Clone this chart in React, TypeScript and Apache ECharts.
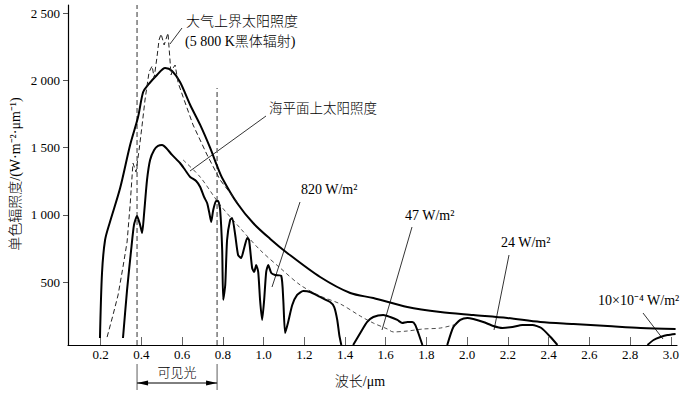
import React, { useEffect, useRef } from "react";
import * as echarts from "echarts";

// ---------- tick labels ----------
const xTickValues = [0.2, 0.4, 0.6, 0.8, 1.0, 1.2, 1.4, 1.6, 1.8, 2.0, 2.2, 2.4, 2.6, 2.8, 3.0];
const yTickValues = [500, 1000, 1500, 2000, 2500];

// ---------- 5800 K blackbody (thick upper curve) ----------
const blackbodyWavelength = [0.197, 0.207, 0.222, 0.246, 0.296, 0.345, 0.384, 0.409, 0.433, 0.477, 0.517, 0.551, 0.590, 0.640, 0.689, 0.738, 0.772, 0.797, 0.870, 0.949, 1.033, 1.116, 1.278, 1.426, 1.539, 1.706, 1.868, 2.030, 2.197, 2.359, 2.522, 2.689, 2.851, 3.023];
const blackbodyIrradiance = [86, 569, 814, 948, 1200, 1520, 1728, 1914, 1966, 2040, 2092, 2070, 1988, 1817, 1669, 1498, 1364, 1275, 1089, 940, 822, 718, 539, 420, 383, 316, 279, 257, 235, 205, 190, 175, 160, 153];

// ---------- top of atmosphere (dashed, spiky) ----------
const toaWavelength = [0.232, 0.261, 0.286, 0.310, 0.330, 0.345, 0.359, 0.374, 0.389, 0.404, 0.418, 0.438, 0.453, 0.463, 0.477, 0.487, 0.497, 0.512, 0.531, 0.546, 0.556, 0.566, 0.581, 0.605, 0.654, 0.723, 0.787, 0.885];
const toaIrradiance = [93, 257, 406, 614, 799, 1074, 1386, 1319, 1483, 1669, 1854, 2062, 2107, 2018, 2174, 2300, 2345, 2263, 2352, 2040, 2092, 2114, 1981, 1877, 1669, 1446, 1260, 1067];

// ---------- sea level (thick lower curve, four pieces) ----------
const seaWavelength1 = [0.310, 0.330, 0.350, 0.364, 0.379, 0.394, 0.404, 0.413, 0.428, 0.443, 0.463, 0.482, 0.502, 0.522, 0.551, 0.590, 0.615, 0.640, 0.669, 0.689, 0.708, 0.723, 0.733, 0.743, 0.753, 0.767, 0.777, 0.787, 0.797, 0.802, 0.812, 0.821, 0.836, 0.846, 0.861, 0.875, 0.890, 0.905, 0.920, 0.929, 0.944, 0.954, 0.964, 0.974, 0.983, 0.993, 1.003, 1.013, 1.023, 1.038, 1.057, 1.087, 1.097, 1.106, 1.121, 1.141, 1.165, 1.195, 1.229, 1.278, 1.327, 1.347, 1.362, 1.372, 1.382];
const seaIrradiance1 = [86, 443, 740, 926, 992, 926, 866, 1000, 1260, 1409, 1483, 1513, 1520, 1498, 1446, 1386, 1334, 1282, 1253, 1208, 1134, 1089, 1022, 948, 1037, 1104, 1104, 1037, 740, 370, 480, 814, 963, 978, 851, 703, 680, 755, 829, 814, 606, 576, 628, 576, 368, 220, 368, 576, 628, 569, 554, 547, 368, 123, 205, 331, 406, 435, 428, 391, 353, 316, 220, 108, 34];
const seaWavelength2 = [1.440, 1.475, 1.509, 1.539, 1.588, 1.622, 1.657, 1.681, 1.706, 1.730, 1.745, 1.760, 1.780];
const seaIrradiance2 = [34, 123, 205, 242, 257, 242, 220, 197, 205, 205, 183, 123, 34];
const seaWavelength3 = [1.902, 1.932, 1.966, 2.001, 2.030, 2.079, 2.128, 2.173, 2.222, 2.271, 2.320, 2.364, 2.409, 2.443];
const seaIrradiance3 = [34, 168, 220, 235, 227, 205, 175, 160, 168, 183, 183, 160, 93, 34];
const seaWavelength4 = [2.885, 2.915, 2.949, 2.983, 3.023];
const seaIrradiance4 = [34, 71, 93, 108, 116];

// ---------- sea-level envelope (thin dashed) ----------
const envelopeWavelength = [0.605, 0.689, 0.787, 0.885, 0.983, 1.082, 1.180, 1.278, 1.377, 1.475, 1.539, 1.608, 1.637, 1.706, 1.784, 1.868, 1.952];
const envelopeIrradiance = [1409, 1282, 1074, 903, 740, 606, 480, 398, 339, 249, 197, 153, 131, 138, 153, 160, 190];

// ---------- visible band boundaries ----------
const visibleBounds = [0.379, 0.772];
const visibleTops = [2560, 1944];

const zip = (xs: number[], ys: number[]) => xs.map((x, i) => [x, ys[i]]);

const SERIF = '"Liberation Serif", "Noto Sans CJK SC", serif';

const fmtY = (v: number) => {
  if (v >= 1000) {
    const t = Math.floor(v / 1000);
    const r = String(v % 1000).padStart(3, "0");
    return t + " " + r;
  }
  return String(v);
};

export default function App() {
  const ref = useRef<HTMLDivElement>(null);

  useEffect(() => {
    if (!ref.current) return;
    const chart = echarts.init(ref.current, null, { renderer: "svg" });

    const thick = { color: "#000", width: 2 };
    const seaSeries = [
      zip(seaWavelength1, seaIrradiance1),
      zip(seaWavelength2, seaIrradiance2),
      zip(seaWavelength3, seaIrradiance3),
      zip(seaWavelength4, seaIrradiance4),
    ].map((d) => ({
      type: "line",
      data: d,
      showSymbol: false,
      smooth: 0.2,
      lineStyle: thick,
      silent: true,
    }));

    const verticalSeries = visibleBounds.map((x, i) => ({
      type: "line",
      data: [
        [x, 34],
        [x, visibleTops[i]],
      ],
      showSymbol: false,
      lineStyle: { color: "#777", width: 1.5, type: [5, 3] },
      silent: true,
    }));

    chart.setOption({
      animation: false,
      backgroundColor: "#fff",
      grid: { left: 68, right: 14, top: 5, bottom: 50, outerBoundsMode: "none" },
      xAxis: {
        type: "value",
        min: 0.04,
        max: 3.03,
        axisLine: { show: true, onZero: false, lineStyle: { color: "#000", width: 1.2 } },
        axisTick: {
          show: true,
          inside: true,
          length: 8,
          customValues: xTickValues,
          lineStyle: { color: "#666", width: 1 },
        },
        axisLabel: {
          customValues: xTickValues,
          formatter: (v: number) => v.toFixed(1),
          fontFamily: SERIF,
          fontSize: 13,
          color: "#000",
          margin: 3,
        },
        splitLine: { show: false },
      },
      yAxis: {
        type: "value",
        min: 34,
        max: 2560,
        axisLine: { show: true, onZero: false, lineStyle: { color: "#000", width: 1.2 } },
        axisTick: {
          show: true,
          inside: false,
          length: 5,
          customValues: yTickValues,
          lineStyle: { color: "#555", width: 1 },
        },
        axisLabel: {
          customValues: yTickValues,
          formatter: fmtY,
          fontFamily: SERIF,
          fontSize: 13,
          color: "#000",
          margin: 8,
        },
        splitLine: { show: false },
      },
      series: [
        ...verticalSeries,
        {
          type: "line",
          data: zip(blackbodyWavelength, blackbodyIrradiance),
          showSymbol: false,
          smooth: 0.3,
          lineStyle: thick,
          silent: true,
        },
        {
          type: "line",
          data: zip(toaWavelength, toaIrradiance),
          showSymbol: false,
          smooth: false,
          lineStyle: { color: "#222", width: 1, type: [5, 3] },
          silent: true,
        },
        ...seaSeries,
        {
          type: "line",
          data: zip(envelopeWavelength, envelopeIrradiance),
          showSymbol: false,
          smooth: 0.3,
          lineStyle: { color: "#222", width: 0.8, type: [4, 3] },
          silent: true,
        },
      ],
    });

    const px0 = chart.convertToPixel({ xAxisIndex: 0 }, visibleBounds[0]) as number;
    const px1 = chart.convertToPixel({ xAxisIndex: 0 }, visibleBounds[1]) as number;
    const ay = 383;

    const thinLine = (x1: number, y1: number, x2: number, y2: number) => ({
      type: "line",
      shape: { x1, y1, x2, y2 },
      style: { stroke: "#000", lineWidth: 0.8 },
      silent: true,
    });
    const label = (x: number, y: number, text: string, size = 14) => ({
      type: "text",
      x,
      y,
      style: {
        text,
        fontFamily: SERIF,
        fontSize: size,
        fontWeight: 300,
        fill: "#000",
        align: "left",
        verticalAlign: "middle",
      },
      silent: true,
    });

    chart.setOption({
      graphic: [
        // annotation leader lines
        thinLine(182, 28, 170, 44),
        thinLine(266, 116, 190, 171),
        thinLine(300, 202, 272, 287),
        thinLine(412, 227, 382, 330),
        thinLine(509, 255, 494, 330),
        thinLine(643, 313, 663, 339),
        // annotation texts
        label(186, 21, "大气上界太阳照度", 14),
        label(185, 41, "(5 800 K黑体辐射)", 14),
        label(269, 108, "海平面上太阳照度", 13.5),
        label(301, 189, "820 W/m²", 14),
        label(405, 215, "47 W/m²", 14),
        label(501, 242, "24 W/m²", 14),
        label(598, 300, "10×10⁻⁴ W/m²", 14),
        // axis names
        {
          type: "text",
          x: 15,
          y: 174,
          rotation: Math.PI / 2,
          style: {
            text: "单色辐照度/(W·m⁻²·μm⁻¹)",
            fontFamily: SERIF,
            fontSize: 14,
            fontWeight: 300,
            fill: "#000",
            align: "center",
            verticalAlign: "middle",
          },
          silent: true,
        },
        {
          type: "text",
          x: 360,
          y: 381,
          style: {
            text: "波长/μm",
            fontFamily: SERIF,
            fontSize: 14,
            fontWeight: 300,
            fill: "#000",
            align: "center",
            verticalAlign: "middle",
          },
          silent: true,
        },
        // visible-light bracket
        {
          type: "line",
          shape: { x1: px0, y1: 364, x2: px0, y2: 390 },
          style: { stroke: "#777", lineWidth: 1.2 },
          silent: true,
        },
        {
          type: "line",
          shape: { x1: px1, y1: 364, x2: px1, y2: 390 },
          style: { stroke: "#777", lineWidth: 1.2 },
          silent: true,
        },
        {
          type: "line",
          shape: { x1: px0, y1: ay, x2: px1, y2: ay },
          style: { stroke: "#000", lineWidth: 1 },
          silent: true,
        },
        {
          type: "polygon",
          shape: { points: [[px0, ay], [px0 + 11, ay - 2.5], [px0 + 11, ay + 2.5]] },
          style: { fill: "#000" },
          silent: true,
        },
        {
          type: "polygon",
          shape: { points: [[px1, ay], [px1 - 11, ay - 2.5], [px1 - 11, ay + 2.5]] },
          style: { fill: "#000" },
          silent: true,
        },
        {
          type: "text",
          x: (px0 + px1) / 2,
          y: 372,
          style: {
            text: "可见光",
            fontFamily: SERIF,
            fontSize: 13,
            fontWeight: 300,
            fill: "#000",
            align: "center",
            verticalAlign: "middle",
          },
          silent: true,
        },
      ],
    });

    return () => {
      chart.dispose();
    };
  }, []);

  return (
    <div
      ref={ref}
      style={{ position: "fixed", left: 0, top: 0, width: 691, height: 395, background: "#fff" }}
    />
  );
}
